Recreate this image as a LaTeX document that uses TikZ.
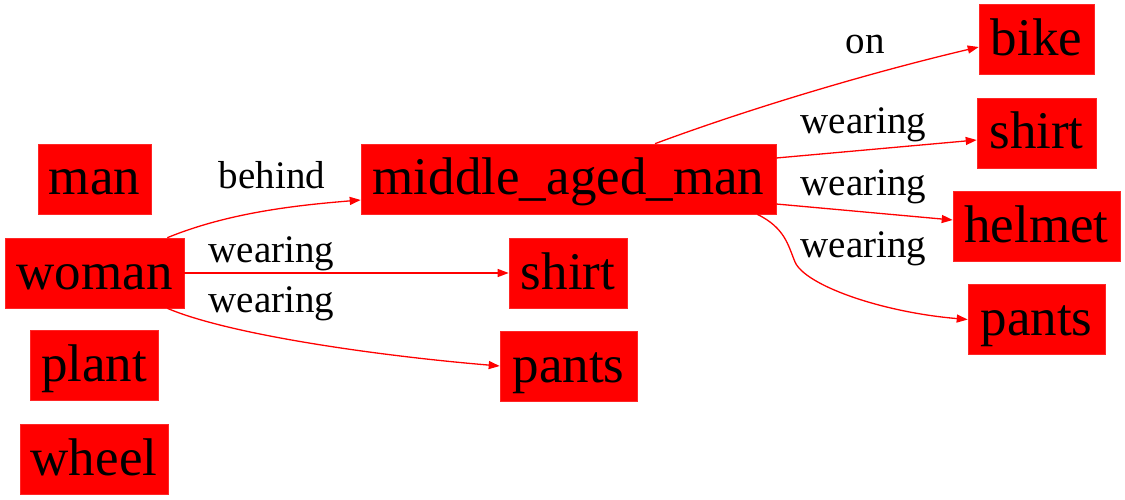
\documentclass[tikz,border=0pt]{standalone}
\usepackage{fontspec}
\setmainfont{Liberation Serif}
\usetikzlibrary{arrows.meta}
\tikzset{
  box/.style={fill=red, draw=red!85!white, line width=0.6pt, inner sep=0pt, minimum height=70pt,
    font=\fontsize{53}{60}\selectfont, text height=44pt, text depth=12pt},
  lbl/.style={inner sep=0pt, anchor=base, font=\fontsize{39}{45}\selectfont},
  edge/.style={draw=red, line width=1.3pt, -{Triangle[length=11pt,width=8pt]}}
}
\begin{document}
\begin{tikzpicture}[x=1pt,y=-1pt]
\useasboundingbox (0,0) rectangle (1125,500);
% nodes
\node[box, minimum width=113pt] (man) at (94.5,179) {man};
\node[box, minimum width=179pt] (woman) at (94.5,273) {woman};
\node[box, minimum width=128pt] (plant) at (94,365.5) {plant};
\node[box, minimum width=148pt] (wheel) at (94,459.5) {wheel};
\node[box, minimum width=415pt] (mam) at (568.5,179) {middle\_aged\_man};
\node[box, minimum width=118pt] (shirtm) at (568,273) {shirt};
\node[box, minimum width=137pt] (pantsm) at (568.5,366) {pants};
\node[box, minimum width=115pt] (bike) at (1036.5,39.5) {bike};
\node[box, minimum width=119pt] (shirtr) at (1036.5,133) {shirt};
\node[box, minimum width=167pt] (helmet) at (1036.5,226) {helmet};
\node[box, minimum width=137pt] (pantsr) at (1036.5,319.5) {pants};
% edges
\draw[edge] ([xshift=-17pt]woman.north east) .. controls (230,212) and (300,205) .. ([yshift=-21pt]mam.west);
\draw[edge] (woman.east) -- (shirtm.west);
\draw[edge] ([xshift=-17pt]woman.south east) .. controls (230,335) and (380,356) .. (pantsm.west);
\draw[edge] ([xshift=86.5pt]mam.north) .. controls (740,112) and (860,75) .. ([yshift=-7.5pt]bike.west);
\draw[edge] ([yshift=21pt]mam.east) -- ([yshift=-7pt]shirtr.west);
\draw[edge] ([yshift=-25pt]mam.east) -- ([yshift=6pt]helmet.west);
\draw[edge] ([xshift=-19pt]mam.south east) .. controls (785,228) and (788,245) .. (795,262) .. controls (805,285) and (880,312) .. (pantsr.west);
% labels
\node[lbl] (l1) at (272,189) {behind};
\node[lbl] (l2) at (271.5,262) {wearing};
\node[lbl] (l3) at (271.5,312) {wearing};
\node[lbl] (l4) at (865,53.5) {on};
\node[lbl] (l5) at (863.5,134) {wearing};
\node[lbl] (l6) at (863.5,195.5) {wearing};
\node[lbl] (l7) at (863.5,257.5) {wearing};
\end{tikzpicture}
\end{document}
